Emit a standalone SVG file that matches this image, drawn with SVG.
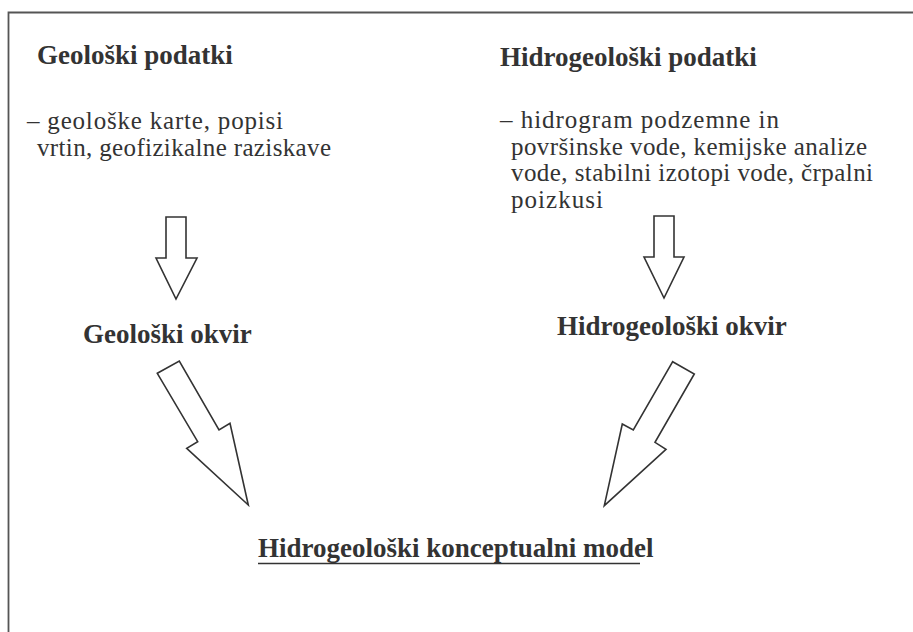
<svg xmlns="http://www.w3.org/2000/svg" width="913" height="632" viewBox="0 0 913 632">
<style>
.h{font-family:'Liberation Serif','Tinos','Times New Roman','Noto Serif','DejaVu Serif',serif;font-weight:bold;font-size:27px;fill:#333}
.t{font-family:'Liberation Serif','Tinos','Times New Roman','Noto Serif','DejaVu Serif',serif;font-size:25px;fill:#333}
.arr{fill:#fff;stroke:#333;stroke-width:1.6;stroke-linejoin:miter}
</style>
<rect width="913" height="632" fill="#fff"/>
<path d="M8.5,632 V12.5 H913" fill="none" stroke="#555" stroke-width="1.8"/>
<g id="geoloski-podatki">
<text class="h" x="37" y="64">Geološki podatki</text>
<text class="t" x="27" y="129" textLength="256">– geološke karte, popisi</text>
<text class="t" x="37" y="156" textLength="294">vrtin, geofizikalne raziskave</text>
</g>
<g id="hidrogeoloski-podatki">
<text class="h" x="500" y="66">Hidrogeološki podatki</text>
<text class="t" x="500" y="128" textLength="279">– hidrogram podzemne in</text>
<text class="t" x="511" y="155" textLength="356">površinske vode, kemijske analize</text>
<text class="t" x="511" y="181" textLength="362">vode, stabilni izotopi vode, črpalni</text>
<text class="t" x="511" y="208" textLength="92">poizkusi</text>
</g>
<g id="geoloski-okvir">
<text class="h" x="83" y="343">Geološki okvir</text>
</g>
<g id="hidrogeoloski-okvir">
<text class="h" x="557" y="335">Hidrogeološki okvir</text>
</g>
<g id="konceptualni-model">
<text class="h" x="258" y="557">Hidrogeološki konceptualni model</text>
<line x1="258" y1="563.5" x2="640" y2="563.5" stroke="#333" stroke-width="1.5"/>
</g>
<g id="connectors">
<polygon class="arr" points="166,217 186,217 186,258 197,258 176,299 156,258 166,258"/>
<polygon class="arr" points="654,216 674,216 674,257 684,257 664,298 644,257 654,257"/>
<polygon class="arr" points="157.3,373.3 179.3,361 219,430 230,423.3 248.3,505 186.7,448.3 197.7,441.7"/>
<polygon class="arr" points="672.7,361.7 694.3,374 655,442.3 666,449.3 604.3,505.7 622.3,424 633.3,430"/>
</g>
</svg>
